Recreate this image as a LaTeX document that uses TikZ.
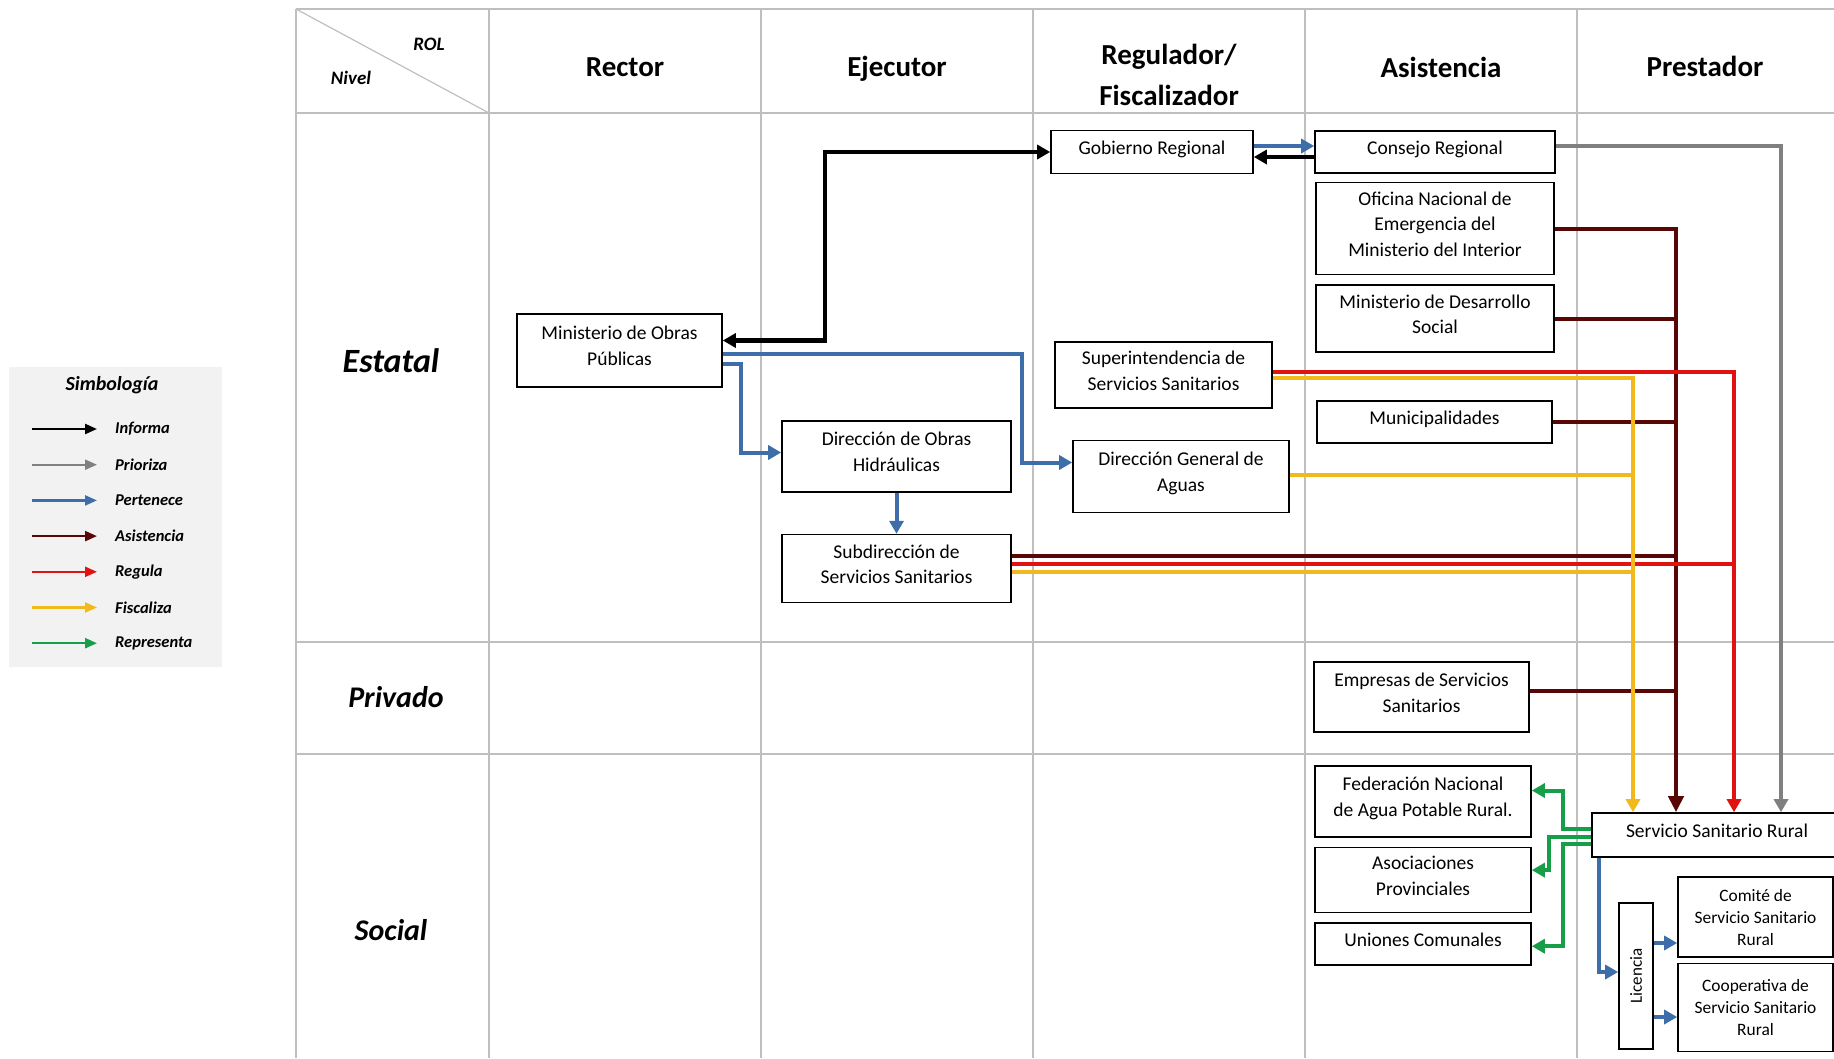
\documentclass[tikz,border=0pt]{standalone}
\usepackage{fontspec}
\setmainfont{Carlito}
\usepackage{graphicx}
\usetikzlibrary{arrows.meta,positioning,calc}

\definecolor{gridgray}{RGB}{191,191,191}
\definecolor{legendgray}{RGB}{242,242,242}
\definecolor{priocol}{RGB}{128,128,128}
\definecolor{pertcol}{RGB}{62,110,170}
\definecolor{asiscol}{RGB}{88,6,6}
\definecolor{regcol}{RGB}{224,18,18}
\definecolor{fiscol}{RGB}{241,185,28}
\definecolor{repcol}{RGB}{22,158,72}

\tikzset{
    grid_line/.style={
        draw=gridgray,
        line width=2pt
    },
    inst/.style={
        draw,
        rectangle,
        line width=1.6pt,
        inner sep=1pt,
        text depth=9pt,
        font=\fontsize{19.5}{25.7}\selectfont
    },
    small_inst/.style={
        inst,
        text depth=0pt,
        font=\fontsize{17.4}{22}\selectfont
    },
    role_head/.style={
        font=\fontsize{29}{41}\selectfont\bfseries
    },
    level_label/.style={
        font=\fontsize{30}{36}\selectfont\bfseries\itshape
    },
    corner_label/.style={
        font=\fontsize{19}{22}\selectfont\bfseries\itshape
    },
    legend_text/.style={
        anchor=west,
        inner sep=0pt,
        font=\fontsize{16.5}{20}\selectfont\bfseries\itshape
    },
    informa/.style={draw=black, line width=4.5pt},
    prioriza/.style={draw=priocol, line width=4pt},
    pertenece/.style={draw=pertcol, line width=4pt},
    asistencia/.style={draw=asiscol, line width=4pt},
    regula/.style={draw=regcol, line width=4pt},
    fiscaliza/.style={draw=fiscol, line width=4pt},
    representa/.style={draw=repcol, line width=4pt},
}

\begin{document}
\begin{tikzpicture}[x=1pt, y=-1pt, node distance=9pt, align=center, >={Triangle[length=13pt,width=14pt]}]
    \useasboundingbox (0,0) rectangle (1834,1058);
    \clip (0,0) rectangle (1834,1058);

    % table
    \foreach \gx in {296,489,761,1033,1305,1577}
        \draw[grid_line] (\gx,9) -- (\gx,1058);
    \foreach \gy in {9,113,642,754}
        \draw[grid_line] (296,\gy) -- (1834,\gy);
    \draw[grid_line, line width=1.2pt] (296,9) -- (489,113);

    % headers
    \node[corner_label] (rol) at (429,44) {ROL};
    \node[corner_label] (nivel) at (351,78) {Nivel};
    \node[role_head] (h_rector) at (625,67) {Rector};
    \node[role_head] (h_ejec) at (897,69) {Ejecutor};
    \node[role_head] (h_reg) at (1169,75) {Regulador/\\Fiscalizador};
    \node[role_head] (h_asis) at (1441,67) {Asistencia};
    \node[role_head] (h_prest) at (1705,66) {Prestador};

    \node[level_label, font=\fontsize{34}{40}\selectfont\bfseries\itshape] (estatal) at (391,361) {Estatal};
    \node[level_label] (privado) at (396,697) {Privado};
    \node[level_label] (social) at (391,930) {Social};

    % legend
    \node[fill=legendgray, minimum width=213pt, minimum height=300pt, inner sep=0pt] (legend) at (115.5,517) {};
    \node[font=\fontsize{20}{24}\selectfont\bfseries\itshape] (legend_title) at (112,385) {Simbología};
    \foreach \sty/\lbl [count=\i] in {informa/Informa, prioriza/Prioriza, pertenece/Pertenece, asistencia/Asistencia, regula/Regula, fiscaliza/Fiscaliza, representa/Representa}
    {
        \node[legend_text] (lg\i) at (115,{429+35.7*(\i-1)}) {\lbl};
        \draw[\sty, line width=2.3pt, >={Triangle[length=12pt,width=10pt]}, ->] (lg\i.west) ++(-83,0) -- ++(65,0);
    }

    % blocks
    \node[inst, minimum width=205pt, minimum height=73pt] (mop) at (619.5,350.5) {Ministerio de Obras\\Públicas};
    \node[inst, minimum width=229pt, minimum height=71pt] (doh) at (896.5,456.5) {Dirección de Obras\\Hidráulicas};
    \node[inst, minimum width=229pt, minimum height=68pt, below=41pt of doh] (sub) {Subdirección de\\Servicios Sanitarios};
    \node[inst, minimum width=202pt, minimum height=43pt] (gr) at (1152,152) {Gobierno Regional};
    \node[inst, minimum width=217pt, minimum height=66pt] (super) at (1163.5,375) {Superintendencia de\\Servicios Sanitarios};
    \node[inst, minimum width=216pt, minimum height=72pt] (dga) at (1181,476.5) {Dirección General de\\Aguas};
    \node[inst, minimum width=240pt, minimum height=42pt] (cr) at (1435,152) {Consejo Regional};
    \node[inst, minimum width=238pt, minimum height=92pt, below=8pt of cr] (onemi) {Oficina Nacional de\\Emergencia del\\Ministerio del Interior};
    \node[inst, minimum width=238pt, minimum height=67pt, below=of onemi] (mds) {Ministerio de Desarrollo\\Social};
    \node[inst, minimum width=235pt, minimum height=42pt] (muni) at (1434.5,422) {Municipalidades};
    \node[inst, minimum width=215pt, minimum height=70pt] (emp) at (1421.5,697) {Empresas de Servicios\\Sanitarios};
    \node[inst, minimum width=216pt, minimum height=71pt] (fed) at (1423,801.5) {Federación Nacional\\de Agua Potable Rural.};
    \node[inst, minimum width=216pt, minimum height=65pt, below=of fed] (asoc) {Asociaciones\\Provinciales};
    \node[inst, minimum width=216pt, minimum height=42pt, below=of asoc] (uni) {Uniones Comunales};
    \node[inst, minimum width=250pt, minimum height=44pt] (ssr) at (1717,835) {Servicio Sanitario Rural};
    \node[inst, text depth=0pt, minimum width=34pt, minimum height=146pt, font=\fontsize{17}{20}\selectfont] (lic) at (1636,976) {\rotatebox{90}{Licencia}};
    \node[small_inst, minimum width=155pt, minimum height=80pt] (comite) at (1755.5,917) {Comité de\\Servicio Sanitario\\Rural};
    \node[small_inst, minimum width=155pt, minimum height=88pt, below=5pt of comite] (coop) {Cooperativa de\\Servicio Sanitario\\Rural};

    % bus columns
    \coordinate (fis_x) at (1633,0);
    \coordinate (asi_x) at (1676,0);
    \coordinate (reg_x) at (1734,0);
    \coordinate (prio_x) at (1781,0);

    % Input and outputs coordinates
    \coordinate[yshift=10pt] (mop_inf) at (mop.east);
    \coordinate[yshift=-3pt] (mop_dga) at (mop.east);
    \coordinate[yshift=-13pt] (mop_doh) at (mop.east);
    \coordinate[yshift=14pt] (dga_in) at (dga.west);
    \coordinate[yshift=4pt] (doh_in) at (doh.west);
    \coordinate[yshift=6pt] (gr_out) at (gr.east);
    \coordinate[yshift=-5pt] (gr_in) at (gr.east);
    \coordinate[yshift=6pt] (cr_in) at (cr.west);
    \coordinate[yshift=-5pt] (cr_inf) at (cr.west);
    \coordinate[yshift=6pt] (cr_prio) at (cr.east);
    \coordinate[yshift=3pt] (sup_reg) at (super.east);
    \coordinate[yshift=-3pt] (sup_fis) at (super.east);
    \coordinate[yshift=2pt] (dga_fis) at (dga.east);
    \coordinate[yshift=13pt] (sub_asi) at (sub.east);
    \coordinate[yshift=5pt] (sub_reg) at (sub.east);
    \coordinate[yshift=-3pt] (sub_fis) at (sub.east);
    \coordinate[yshift=6pt] (emp_asi) at (emp.east);
    \coordinate[yshift=6pt] (ssr_fed) at (ssr.west);
    \coordinate[yshift=-2pt] (ssr_asoc) at (ssr.west);
    \coordinate[yshift=-9pt] (ssr_uni) at (ssr.west);
    \coordinate[yshift=11pt] (fed_in) at (fed.east);
    \coordinate[yshift=10pt] (asoc_in) at (asoc.east);
    \coordinate[yshift=-2pt] (uni_in) at (uni.east);
    \coordinate[xshift=8pt] (ssr_lic) at (ssr.south west);
    \coordinate[yshift=4pt] (lic_in) at (lic.west);
    \coordinate[yshift=33pt] (lic_com) at (lic.east);
    \coordinate[yshift=-41pt] (lic_coop) at (lic.east);

    % lines
    \draw[informa, <->] (mop_inf) -- ++(102,0) |- (gr.west);
    \draw[informa, ->] (cr_inf) -- (gr_in);
    \draw[prioriza, ->] (cr_prio) -| (prio_x |- ssr.north);
    \draw[pertenece, ->] (mop_dga) -- ++(299,0) |- (dga_in);
    \draw[pertenece, ->] (mop_doh) -- ++(18,0) |- (doh_in);
    \draw[pertenece, ->] (doh.south) -- (sub.north);
    \draw[pertenece, ->] (gr_out) -- (cr_in);
    \draw[pertenece, ->] (ssr_lic) |- (lic_in);
    \draw[pertenece, ->] (lic_com) -- (lic_com -| comite.west);
    \draw[pertenece, ->] (lic_coop) -- (lic_coop -| coop.west);

    \draw[asistencia, ->, >={Triangle[length=16pt,width=15pt]}] (onemi.east) -| (asi_x |- ssr.north);
    \draw[asistencia] (mds.east) -- (mds.east -| asi_x);
    \draw[asistencia] (muni.east) -- (muni.east -| asi_x);
    \draw[asistencia] (sub_asi) -- (sub_asi -| asi_x);
    \draw[asistencia] (emp_asi) -- (emp_asi -| asi_x);

    \draw[regula, ->] (sup_reg) -| (reg_x |- ssr.north);
    \draw[regula] (sub_reg) -- (sub_reg -| reg_x);

    \draw[fiscaliza, ->] (sup_fis) -| (fis_x |- ssr.north);
    \draw[fiscaliza] (dga_fis) -- (dga_fis -| fis_x);
    \draw[fiscaliza] (sub_fis) -- (sub_fis -| fis_x);

    \draw[representa, ->] (ssr_fed) -- ++(-28,0) |- (fed_in);
    \draw[representa, ->] (ssr_asoc) -- ++(-42,0) |- (asoc_in);
    \draw[representa, ->] (ssr_uni) -- ++(-28,0) |- (uni_in);
\end{tikzpicture}
\end{document}
